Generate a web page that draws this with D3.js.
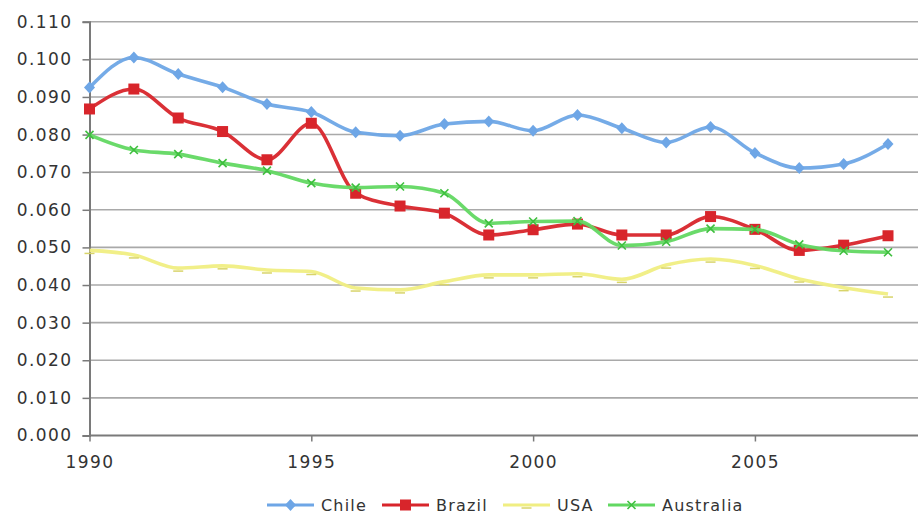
<!DOCTYPE html>
<html>
<head>
<meta charset="utf-8">
<script src="https://cdn.jsdelivr.net/npm/d3@7"></script>
<style>
    body { margin: 0; background: #fff; }
    text { font-family: "DejaVu Sans", Verdana, sans-serif; fill: #333; }
</style>
</head>
<body>
<svg id="chart" width="920" height="516"></svg>
<script>
// Data
var years = [1990, 1991, 1992, 1993, 1994, 1995, 1996, 1997, 1998, 1999,
             2000, 2001, 2002, 2003, 2004, 2005, 2006, 2007, 2008];
var chile = [0.0925, 0.1005, 0.0961, 0.0926, 0.0881, 0.0860, 0.0806, 0.0797, 0.0828, 0.0835,
             0.0810, 0.0852, 0.0817, 0.0779, 0.0820, 0.0751, 0.0711, 0.0722, 0.0775];
var brazil = [0.0868, 0.0921, 0.0844, 0.0808, 0.0733, 0.0830, 0.0644, 0.0610, 0.0591, 0.0533,
              0.0547, 0.0562, 0.0533, 0.0533, 0.0582, 0.0548, 0.0492, 0.0506, 0.0531];
var usa = [0.0492, 0.0480, 0.0445, 0.0451, 0.0440, 0.0436, 0.0392, 0.0387, 0.0409, 0.0427,
           0.0427, 0.0430, 0.0415, 0.0453, 0.0469, 0.0452, 0.0416, 0.0393, 0.0376];
var australia = [0.0799, 0.0759, 0.0748, 0.0724, 0.0704, 0.0671, 0.0659, 0.0662, 0.0644, 0.0564,
                 0.0569, 0.0570, 0.0505, 0.0515, 0.0550, 0.0548, 0.0508, 0.0491, 0.0487];
var yTicks = [0, 0.01, 0.02, 0.03, 0.04, 0.05, 0.06, 0.07, 0.08, 0.09, 0.10, 0.11];
var xTicks = [1990, 1995, 2000, 2005];

var series = [
    {name: "Chile", values: chile, color: "#6ea6e6", marker: "diamond"},
    {name: "Brazil", values: brazil, color: "#d8252b", marker: "square"},
    {name: "USA", values: usa, color: "#f0ee82", marker: "dash"},
    {name: "Australia", values: australia, color: "#62d862", marker: "cross"}
];

var plot = {left: 89.5, right: 918, top: 21.7, bottom: 435.5};

var svg = d3.select("#chart");

var xScale = d3.scaleLinear()
    .domain([1990, 2008])
    .range([plot.left, 888]);

var yScale = d3.scaleLinear()
    .domain([0, 0.11])
    .range([plot.bottom, plot.top]);

// gridlines
svg.append("g")
    .selectAll("line")
    .data(yTicks.slice(1))
    .enter()
    .append("line")
    .attr("x1", plot.left)
    .attr("x2", plot.right)
    .attr("y1", function (d) {return yScale(d);})
    .attr("y2", function (d) {return yScale(d);})
    .attr("stroke", "#a9a9a9")
    .attr("stroke-width", 1.6);

// y axis
var yAxis = d3.axisLeft(yScale)
    .tickValues(yTicks)
    .tickFormat(d3.format(".3f"))
    .tickSize(7)
    .tickPadding(10);

var gy = svg.append("g")
    .attr("transform", "translate(" + plot.left + ",0)")
    .call(yAxis);
gy.select(".domain").attr("stroke", "#7a7a7a").attr("stroke-width", 2);
gy.selectAll(".tick line").attr("stroke", "#7a7a7a").attr("stroke-width", 1.5);
gy.selectAll("text")
    .attr("font-size", 17)
    .attr("letter-spacing", 1.4)
    .attr("fill", "#333");

// x axis
var xAxis = d3.axisBottom(xScale)
    .tickValues(xTicks)
    .tickFormat(d3.format("d"))
    .tickSize(6)
    .tickPadding(14)
    .tickSizeOuter(0);

var gx = svg.append("g")
    .attr("transform", "translate(0," + plot.bottom + ")")
    .call(xAxis);
gx.select(".domain").attr("d", "M" + plot.left + ",0H" + plot.right).attr("stroke", "#7a7a7a").attr("stroke-width", 2);
gx.selectAll(".tick line").attr("stroke", "#7a7a7a").attr("stroke-width", 1.5);
gx.selectAll("text")
    .attr("font-size", 17)
    .attr("letter-spacing", 1.4)
    .attr("fill", "#333");

// lines (smoothed, like the spreadsheet's smooth line)
var line = d3.line()
    .x(function (d, i) {return xScale(years[i]);})
    .y(function (d) {return yScale(d);})
    .curve(d3.curveMonotoneX);

function drawMarker(g, type, color, x, y) {
    if (type === "diamond") {
        g.append("path")
            .attr("d", "M" + x + "," + (y - 6) + "L" + (x + 5.5) + "," + y + "L" + x + "," + (y + 6) + "L" + (x - 5.5) + "," + y + "Z")
            .attr("fill", color);
    } else if (type === "square") {
        g.append("rect")
            .attr("x", x - 5.5).attr("y", y - 5.5)
            .attr("width", 11).attr("height", 11)
            .attr("fill", color);
    } else if (type === "dash") {
        g.append("line")
            .attr("x1", x - 5).attr("x2", x + 5)
            .attr("y1", y + 3).attr("y2", y + 3)
            .attr("stroke", "#d8d46a").attr("stroke-width", 1.5);
    } else {
        g.append("path")
            .attr("d", "M" + (x - 4) + "," + (y - 4) + "L" + (x + 4) + "," + (y + 4) + "M" + (x - 4) + "," + (y + 4) + "L" + (x + 4) + "," + (y - 4))
            .attr("stroke", "#3fbf3f").attr("stroke-width", 1.6);
    }
}

series.forEach(function (s) {
    var g = svg.append("g").attr("class", "series");
    g.append("path")
        .datum(s.values)
        .attr("d", line)
        .attr("fill", "none")
        .attr("stroke", s.color)
        .attr("stroke-width", 3.6)
        .attr("stroke-linejoin", "round")
        .attr("opacity", 0.95);
    s.values.forEach(function (v, i) {
        drawMarker(g, s.marker, s.color, xScale(years[i]), yScale(v));
    });
});

// legend
var legendX = [267, 382, 503, 608];
var legend = svg.append("g").attr("class", "legend");
series.forEach(function (s, i) {
    var lg = legend.append("g").attr("transform", "translate(" + legendX[i] + ",505)");
    lg.append("line")
        .attr("x1", 0).attr("x2", 47)
        .attr("y1", 0).attr("y2", 0)
        .attr("stroke", s.color)
        .attr("stroke-width", 3);
    drawMarker(lg, s.marker, s.color, 23.5, 0);
    lg.append("text")
        .attr("x", 54)
        .attr("y", 6)
        .attr("font-size", 16)
        .attr("letter-spacing", 1.2)
        .attr("fill", "#333")
        .text(s.name);
});
</script>
</body>
</html>
